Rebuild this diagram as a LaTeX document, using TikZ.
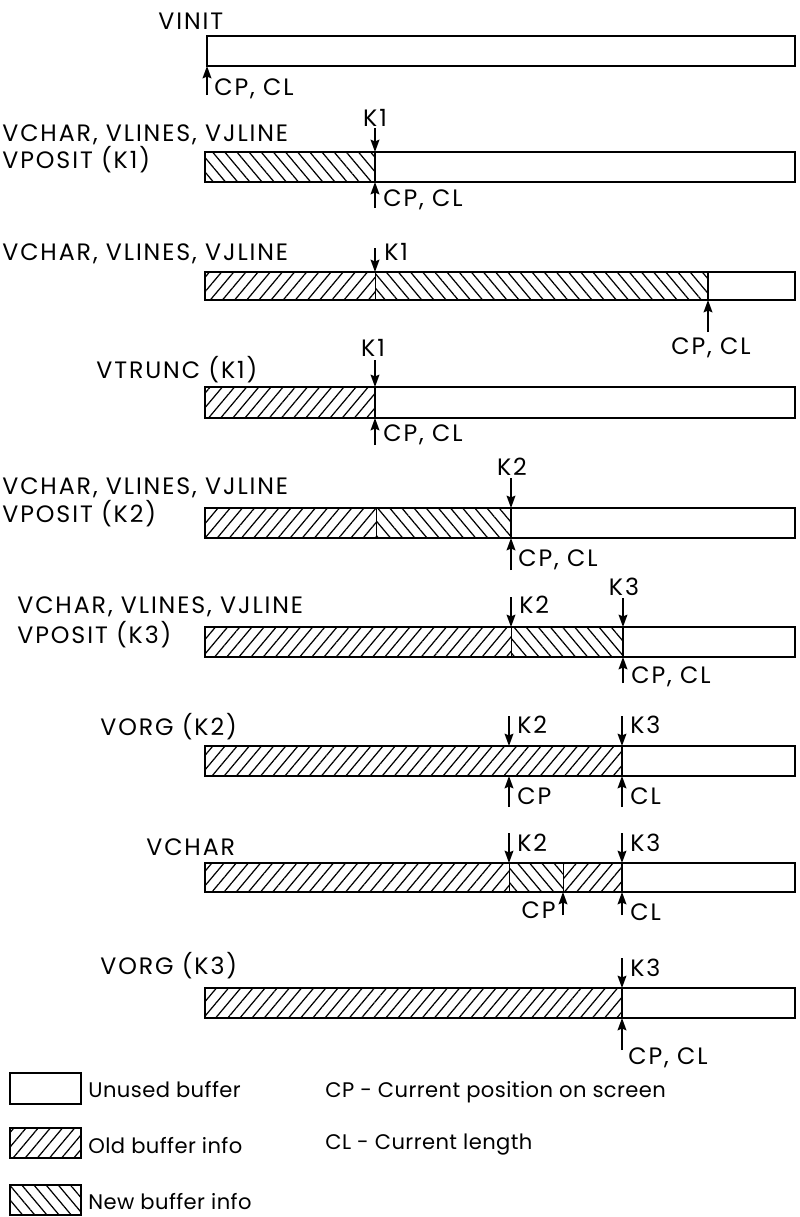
\documentclass[tikz,border=0pt]{standalone}
\usepackage{fontspec}
\setmainfont{Poppins}
\usetikzlibrary{arrows.meta,patterns.meta}

\tikzset{
  bar/.style={draw,line width=1.3pt},
  oldinfo/.style={pattern={Lines[angle=50,distance=5.3pt,line width=0.7pt]}},
  newinfo/.style={pattern={Lines[angle=-50,distance=5.3pt,line width=0.7pt]}},
  ptr/.style={-{Stealth[length=7pt,width=5pt,inset=1pt]},line width=1pt},
  lbl/.style={anchor=west,inner sep=0pt,
    font=\fontsize{13.5}{15}\selectfont\addfontfeature{LetterSpace=8}},
  txt/.style={anchor=west,inner sep=0pt,
    font=\fontsize{12}{14}\selectfont\addfontfeature{LetterSpace=2}},
}

\begin{document}
\begin{tikzpicture}[x=0.02cm,y=-0.02cm]
\useasboundingbox (0,0) rectangle (799,1217);

% VINIT
\draw[bar] (207,36) rectangle (795,66);
\node[lbl] (vinit) at (158,21) {VINIT};
\coordinate (a1) at (207,95); \coordinate (b1) at (207,66);
\draw[ptr] (a1) -- (b1);
\node[lbl] (cp1) at (214,89) {CP, CL};

% VPOSIT (K1)
\fill[newinfo] (205,152) rectangle (375,182);
\draw[bar] (205,152) rectangle (795,182);
\draw[bar] (375,152) -- (375,182);
\node[lbl] (op2a) at (2,135) {VCHAR, VLINES, VJLINE};
\node[lbl] (op2b) at (2,160) {VPOSIT (K1)};
\node[lbl,anchor=center] (k1r2) at (375,118) {K1};
\coordinate (k1a) at (375,128); \coordinate (k1b) at (375,152);
\draw[ptr] (k1a) -- (k1b);
\coordinate (a2) at (375,208); \coordinate (b2) at (375,182);
\draw[ptr] (a2) -- (b2);
\node[lbl] (cp2) at (383,200) {CP, CL};

% more characters
\fill[oldinfo] (205,272) rectangle (375,300);
\fill[newinfo] (375,272) rectangle (708,300);
\draw[bar] (205,272) rectangle (795,300);
\draw (375,272) -- (375,300);
\draw[bar] (708,272) -- (708,300);
\node[lbl] (op3) at (2,254) {VCHAR, VLINES, VJLINE};
\coordinate (k1c) at (375,248); \coordinate (k1d) at (375,272);
\draw[ptr] (k1c) -- (k1d);
\node[lbl] (k1r3) at (384,252) {K1};
\coordinate (a3) at (708,332); \coordinate (b3) at (708,300);
\draw[ptr] (a3) -- (b3);
\node[lbl,anchor=center] (cp3) at (711,348) {CP, CL};

% VTRUNC (K1)
\fill[oldinfo] (205,387) rectangle (375,418);
\draw[bar] (205,387) rectangle (795,418);
\draw[bar] (375,387) -- (375,418);
\node[lbl] (op4) at (96,370) {VTRUNC (K1)};
\node[lbl,anchor=center] (k1r4) at (373,348) {K1};
\coordinate (k1e) at (375,360); \coordinate (k1f) at (375,387);
\draw[ptr] (k1e) -- (k1f);
\coordinate (a4) at (375,445); \coordinate (b4) at (375,418);
\draw[ptr] (a4) -- (b4);
\node[lbl] (cp4) at (383,435) {CP, CL};

% VPOSIT (K2)
\fill[oldinfo] (205,508) rectangle (376,538);
\fill[newinfo] (376,508) rectangle (511,538);
\draw[bar] (205,508) rectangle (795,538);
\draw (376,508) -- (376,538);
\draw[bar] (511,508) -- (511,538);
\node[lbl] (op5a) at (2,488) {VCHAR, VLINES, VJLINE};
\node[lbl] (op5b) at (2,514) {VPOSIT (K2)};
\node[lbl,anchor=center] (k2r5) at (512,467) {K2};
\coordinate (k2a) at (511,478); \coordinate (k2b) at (511,508);
\draw[ptr] (k2a) -- (k2b);
\coordinate (a5) at (511,570); \coordinate (b5) at (511,538);
\draw[ptr] (a5) -- (b5);
\node[lbl] (cp5) at (518,560) {CP, CL};

% VPOSIT (K3)
\fill[oldinfo] (205,627) rectangle (511,657);
\fill[newinfo] (511,627) rectangle (623,657);
\draw[bar] (205,627) rectangle (795,657);
\draw (511,627) -- (511,657);
\draw[bar] (623,627) -- (623,657);
\node[lbl] (op6a) at (17,607) {VCHAR, VLINES, VJLINE};
\node[lbl] (op6b) at (17,635) {VPOSIT (K3)};
\coordinate (k2c) at (511,597); \coordinate (k2d) at (511,627);
\draw[ptr] (k2c) -- (k2d);
\node[lbl] (k2r6) at (519,605) {K2};
\node[lbl,anchor=center] (k3r6) at (624,587) {K3};
\coordinate (k3a) at (623,598); \coordinate (k3b) at (623,627);
\draw[ptr] (k3a) -- (k3b);
\coordinate (a6) at (623,683); \coordinate (b6) at (623,657);
\draw[ptr] (a6) -- (b6);
\node[lbl] (cp6) at (631,677) {CP, CL};

% VORG (K2)
\fill[oldinfo] (205,746) rectangle (622,776);
\draw[bar] (205,746) rectangle (795,776);
\draw[bar] (622,746) -- (622,776);
\node[lbl] (op7) at (100,727) {VORG (K2)};
\coordinate (k2e) at (509,716); \coordinate (k2f) at (509,746);
\draw[ptr] (k2e) -- (k2f);
\node[lbl] (k2r7) at (517,725) {K2};
\coordinate (k3c) at (622,716); \coordinate (k3d) at (622,746);
\draw[ptr] (k3c) -- (k3d);
\node[lbl] (k3r7) at (630,725) {K3};
\coordinate (a7) at (509,807); \coordinate (b7) at (509,776);
\draw[ptr] (a7) -- (b7);
\node[lbl] (cp7) at (517,796) {CP};
\coordinate (c7) at (622,807); \coordinate (d7) at (622,776);
\draw[ptr] (c7) -- (d7);
\node[lbl] (cl7) at (630,796) {CL};

% VCHAR
\fill[oldinfo] (205,863) rectangle (509,892);
\fill[newinfo] (509,863) rectangle (563,892);
\fill[oldinfo] (563,863) rectangle (622,892);
\draw[bar] (205,863) rectangle (795,892);
\draw (509,863) -- (509,892);
\draw (563,863) -- (563,892);
\draw[bar] (622,863) -- (622,892);
\node[lbl] (op8) at (146,847) {VCHAR};
\coordinate (k2g) at (509,833); \coordinate (k2h) at (509,863);
\draw[ptr] (k2g) -- (k2h);
\node[lbl] (k2r8) at (517,843) {K2};
\coordinate (k3e) at (622,833); \coordinate (k3f) at (622,863);
\draw[ptr] (k3e) -- (k3f);
\node[lbl] (k3r8) at (630,843) {K3};
\coordinate (a8) at (563,915); \coordinate (b8) at (563,892);
\draw[ptr] (a8) -- (b8);
\node[lbl,anchor=east] (cp8) at (556,910) {CP};
\coordinate (c8) at (622,915); \coordinate (d8) at (622,892);
\draw[ptr] (c8) -- (d8);
\node[lbl] (cl8) at (630,912) {CL};

% VORG (K3)
\fill[oldinfo] (205,988) rectangle (622,1018);
\draw[bar] (205,988) rectangle (795,1018);
\draw[bar] (622,988) -- (622,1018);
\node[lbl] (op9) at (100,966) {VORG (K3)};
\coordinate (k3g) at (622,958); \coordinate (k3h) at (622,988);
\draw[ptr] (k3g) -- (k3h);
\node[lbl] (k3r9) at (630,968) {K3};
\coordinate (a9) at (622,1050); \coordinate (b9) at (622,1018);
\draw[ptr] (a9) -- (b9);
\node[lbl] (cp9) at (628,1058) {CP, CL};

% legend
\draw[bar] (10,1073) rectangle (81,1104);
\node[txt] (lg1) at (88,1090) {Unused buffer};
\fill[oldinfo] (10,1128) rectangle (81,1158);
\draw[bar] (10,1128) rectangle (81,1158);
\node[txt] (lg2) at (88,1146) {Old buffer info};
\fill[newinfo] (10,1185) rectangle (81,1215);
\draw[bar] (10,1185) rectangle (81,1215);
\node[txt] (lg3) at (88,1202) {New buffer info};
\node[txt] (cpdef) at (325,1092) {CP - Current position on screen};
\node[txt] (cldef) at (325,1145) {CL - Current length};
\end{tikzpicture}
\end{document}
